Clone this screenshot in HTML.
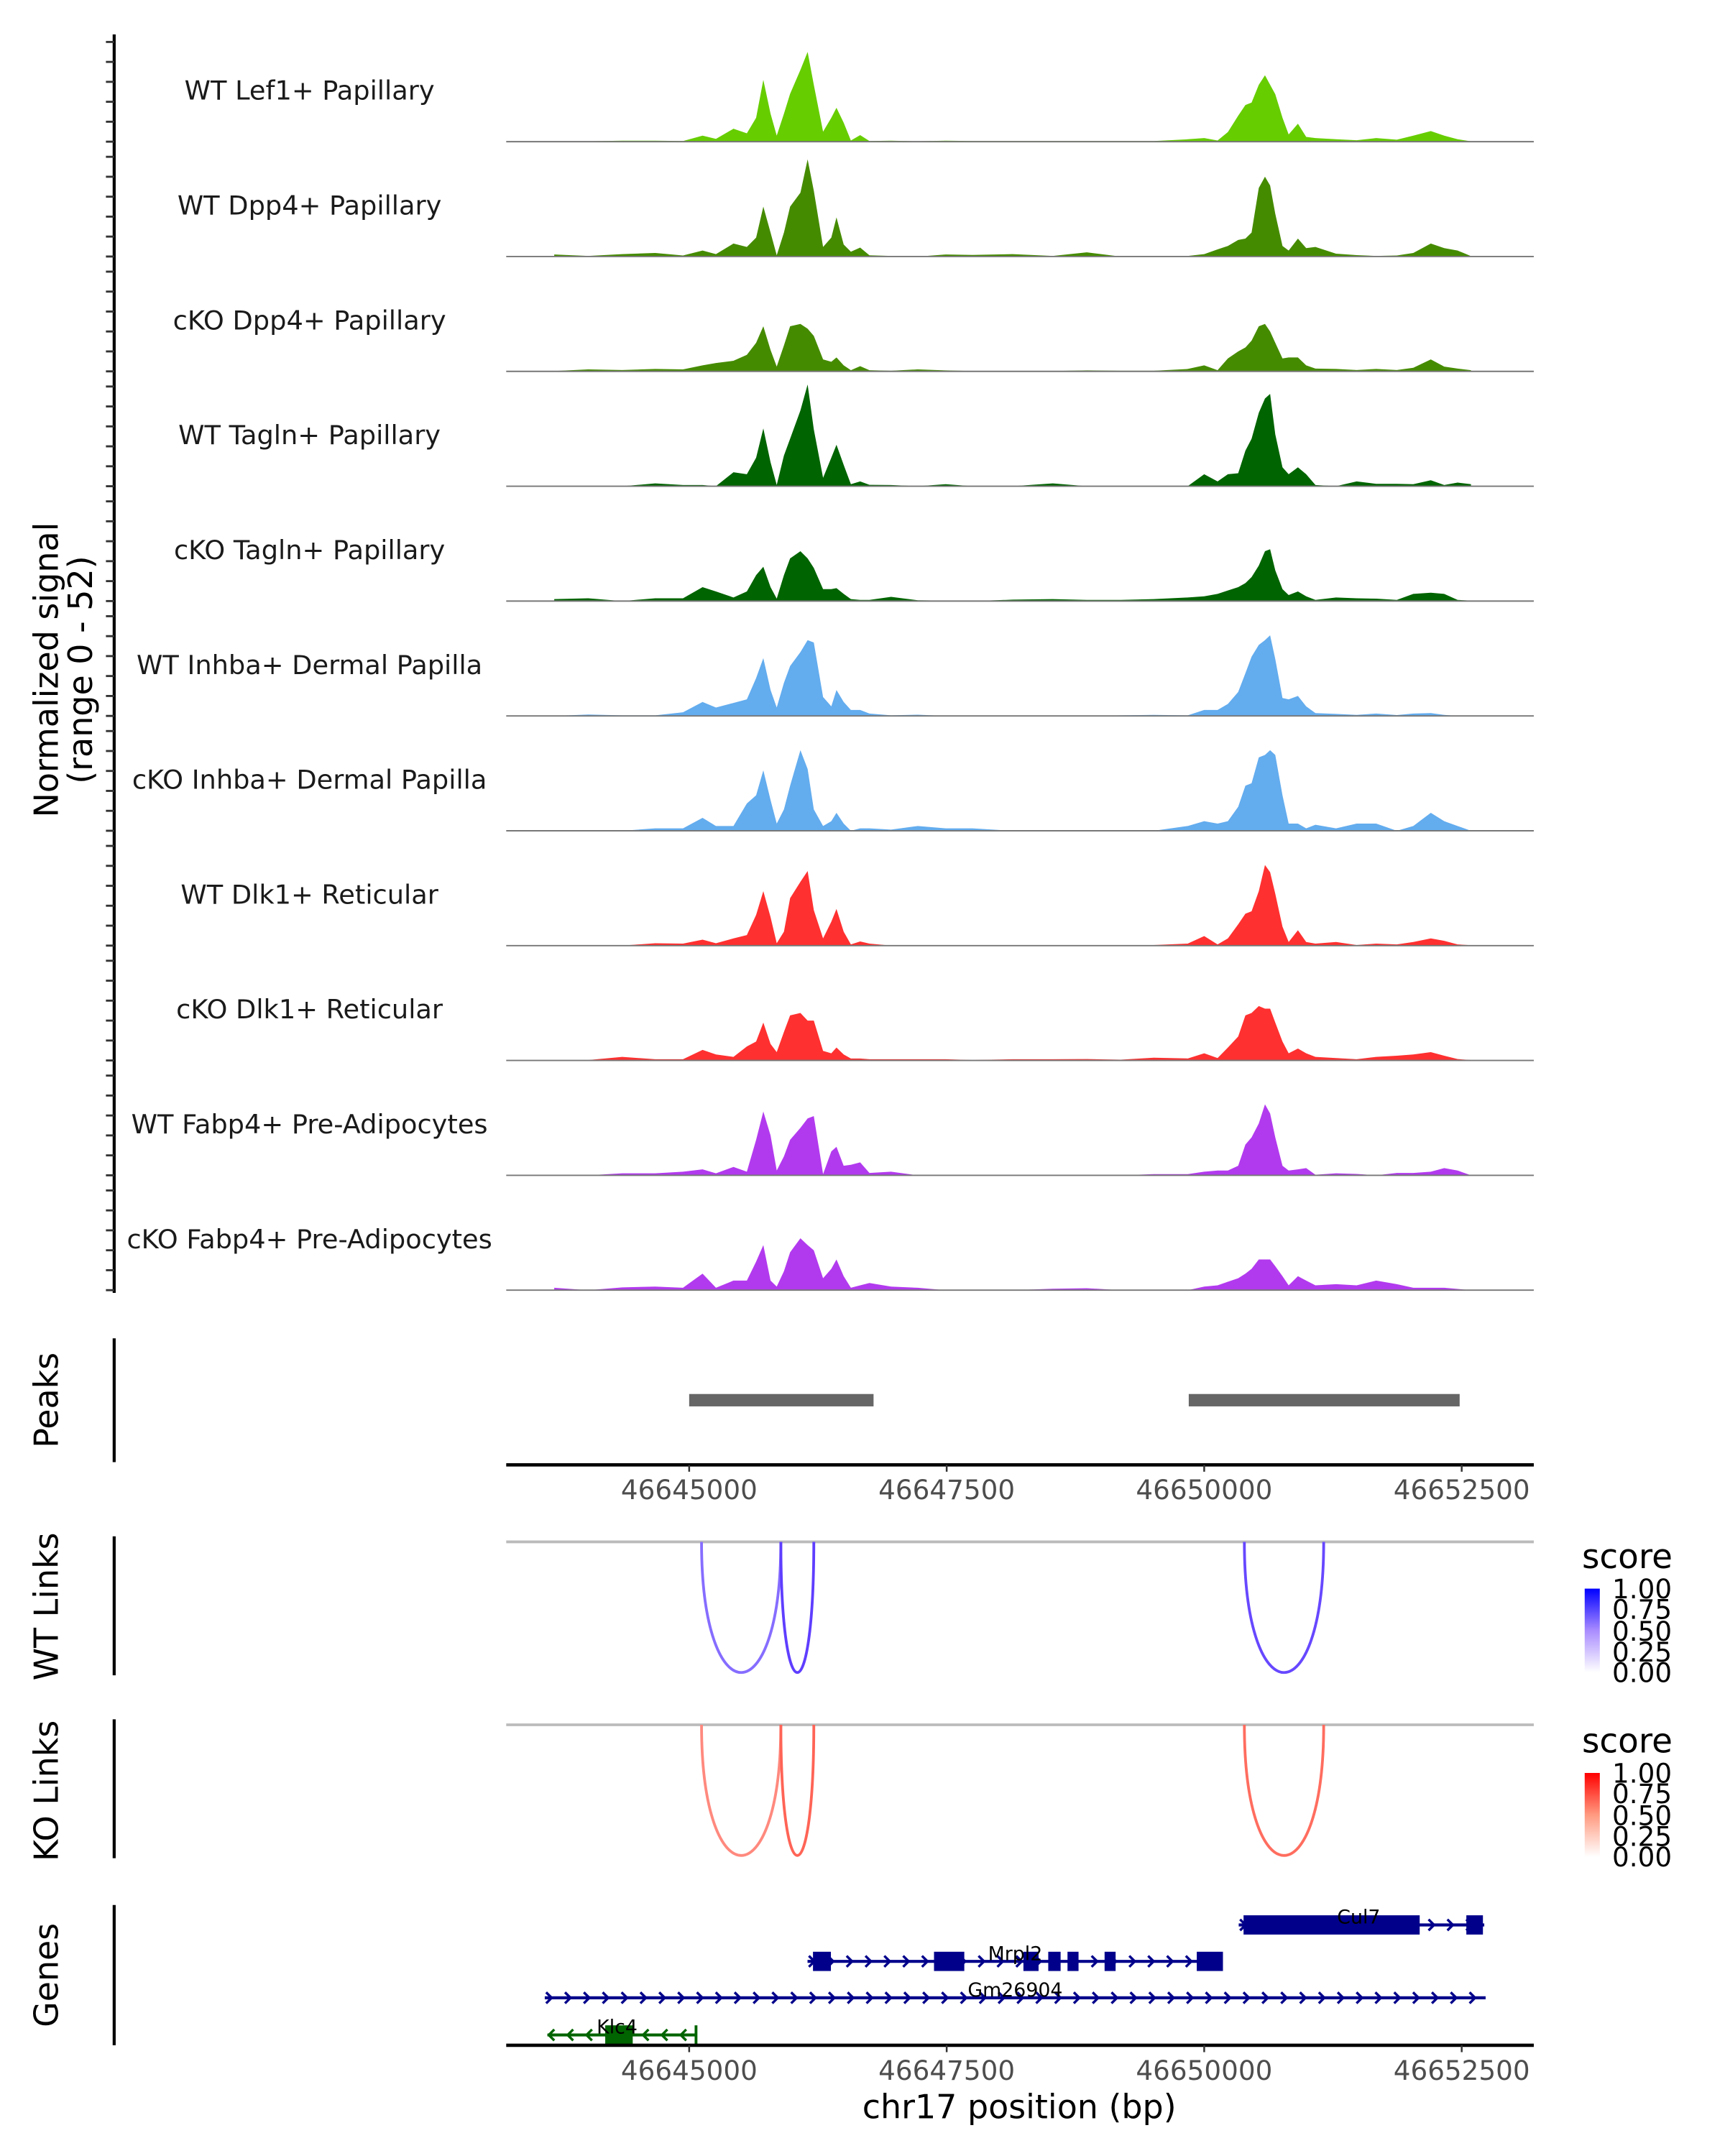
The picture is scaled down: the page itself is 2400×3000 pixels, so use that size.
<!DOCTYPE html>
<html><head><meta charset="utf-8">
<style>
html,body{margin:0;padding:0;background:#fff;}
svg{display:block;font-family:"DejaVu Sans","Liberation Sans",sans-serif;}
</style></head>
<body>
<svg id="chart" xmlns="http://www.w3.org/2000/svg" width="2400" height="3000" viewBox="0 0 1254 1567.5">
<defs>
<linearGradient id="gradWT" x1="0" y1="1" x2="0" y2="0"><stop offset="0" stop-color="#ffffff"/><stop offset="0.5" stop-color="#a98cff"/><stop offset="1" stop-color="#0000ff"/></linearGradient>
<linearGradient id="gradKO" x1="0" y1="1" x2="0" y2="0"><stop offset="0" stop-color="#ffffff"/><stop offset="0.5" stop-color="#ff9a80"/><stop offset="1" stop-color="#ff0000"/></linearGradient>
</defs>
<g id="tracks"></g>
<g id="peaks"></g>
<g id="links"></g>
<g id="genes"></g>
<g id="axes"></g>
<text transform="translate(42,487) rotate(-90)" text-anchor="middle" font-size="24" fill="#000">Normalized signal</text>
<text transform="translate(67,487) rotate(-90)" text-anchor="middle" font-size="24" fill="#000">(range 0 - 52)</text>
<text transform="translate(42,1018) rotate(-90)" text-anchor="middle" font-size="24">Peaks</text>
<text transform="translate(42,1168) rotate(-90)" text-anchor="middle" font-size="24">WT Links</text>
<text transform="translate(42,1302) rotate(-90)" text-anchor="middle" font-size="24">KO Links</text>
<text transform="translate(42,1436) rotate(-90)" text-anchor="middle" font-size="24">Genes</text>
<text x="741" y="1540" text-anchor="middle" font-size="24">chr17 position (bp)</text>
<g>
<text x="1150" y="1140" font-size="24.5">score</text>
<rect x="1152" y="1155" width="11" height="61" fill="url(#gradWT)"/>
<text x="1172" y="1162" font-size="19.5">1.00</text><text x="1172" y="1177" font-size="19.5">0.75</text><text x="1172" y="1193" font-size="19.5">0.50</text><text x="1172" y="1208" font-size="19.5">0.25</text><text x="1172" y="1223" font-size="19.5">0.00</text>
</g>
<g>
<text x="1150" y="1274" font-size="24.5">score</text>
<rect x="1152" y="1289" width="11" height="61" fill="url(#gradKO)"/>
<text x="1172" y="1296" font-size="19.5">1.00</text><text x="1172" y="1311" font-size="19.5">0.75</text><text x="1172" y="1327" font-size="19.5">0.50</text><text x="1172" y="1342" font-size="19.5">0.25</text><text x="1172" y="1357" font-size="19.5">0.00</text>
</g>
</svg>
<script>
const positions = [46643690,46644020,46644350,46644670,46644940,46645130,46645260,46645430,46645560,46645650,46645720,46645790,46645850,46645920,46645980,46646080,46646150,46646210,46646300,46646380,46646430,46646500,46646570,46646660,46646750,46646960,46647220,46647490,46647750,46648140,46648530,46648860,46649190,46649510,46649840,46650000,46650130,46650230,46650330,46650400,46650460,46650530,46650590,46650640,46650690,46650760,46650820,46650910,46650990,46651080,46651280,46651480,46651670,46651870,46652030,46652200,46652330,46652460,46652590];
const wtLef1 = [0.2,0.2,0.5,0.5,0.3,3,1.4,6.5,4.2,12,31,14,3,14,24,36,45,28.5,5,12,17,9.5,0.6,3.3,0.3,0.5,0.2,0.5,0.3,0.3,0.3,0.3,0.3,0.3,1.2,1.8,0.6,4.8,13,18.4,19.6,28.5,33.3,28.5,23.8,12,3.6,9,2.4,1.8,1.2,0.7,1.8,1,3,5.3,3,1.2,0.2];
const wtDpp4 = [1,0.3,1.2,1.8,0.5,3,1.2,6.5,4.8,9.5,25,12,0.6,12,25,32,48.7,33,4.8,9.5,19.6,6,2.4,4.5,0.6,0.3,0,1,0.8,1.2,0.3,2.1,0,0.3,0.3,1.2,3.6,5.3,8.3,9,12,34.4,40,35.6,21.4,5.3,3,9,4.2,4.8,1.4,0.7,0.3,0.5,1.8,6.5,4.2,3,0.2];
const ckoDpp4 = [0.2,1,0.7,1.2,1,3,4.2,5.3,8.3,14.3,22.6,10.7,2.4,13,22.6,23.8,21.4,17.8,6,4.8,7,3,0.6,2.6,0.6,0.3,1,0.5,0.2,0,0.2,0.5,0.3,0.3,1.2,3,0.6,6.5,10,12,15.4,22.6,23.8,20,14.3,6.5,7,7,3,1.4,1.2,0.7,1.2,0.7,1.8,6,2.4,1.4,0.6];
const wtTagln = [0,0,0,1.4,0.6,0.6,0,7,6,14.3,29,12,0.6,15.4,23.8,38,51,28.5,4.2,14.3,20.8,10.7,1,2.4,0.7,0.6,0,1,0,0,1.4,0,0,0,0,6,2.4,6,6.5,17.8,23.8,36.8,44,46.3,26,9.5,6,9.5,6,0.6,0,2.4,1.2,1.2,1,3,0.6,1.8,1];
const ckoTagln = [1,1.4,0,1.4,1.4,7,4.8,1.8,4.8,13,17.2,7,1.2,13,21.4,25,21.4,16.6,6,6,6.5,3.6,1,0.6,0.6,2.1,0.4,0.2,0,0.7,1,0.6,0.6,1,1.8,2.4,3.6,5.3,7,9,12,17.8,25,26,15.4,6,3,4.8,2.4,0.6,1.8,1.4,1.2,0.6,3.6,4.2,3.6,0.6,0.2];
const wtInhba = [0,0.7,0.3,0.3,1.8,7,4.2,6.5,8.3,19,29,13,4.2,16.6,25,32,38,36.8,9.5,4.8,13,7,3,3,1.2,0.3,0.6,0,0,0,0,0,0.3,0.5,0.3,3,3,6,12,21.4,29.7,35.6,38,40.4,28.5,9,8.3,10,4.8,1.4,1,0.5,1.2,0.4,1.2,1.4,0.5,0,0];
const ckoInhba = [0,0,0,1.2,1.2,6.5,2.4,2.4,13.7,17.8,30.3,15.4,3.6,10.7,22.6,40.4,31,10.7,2.4,4.8,9,3.6,0,1.2,1.2,0.6,2.4,1.2,1.2,0,0,0,0,0,2.4,4.8,3.6,4.8,12,22.6,23.8,36.8,38,40.4,38,17.8,3.6,3.6,1.2,3,1.2,3.6,3.6,0,2.4,9,4.8,2.4,0];
const wtDlk1 = [0.3,0.3,0,1.2,1,3,1.2,3.6,5.3,15.4,27.3,14.3,1.2,7,23.8,32,37.4,17.8,3.6,12,18.4,7,0.6,2.1,1,0,0,0,0,0,0.3,0.3,0,0.3,1,4.8,0.6,3.6,10.7,16,17.2,27.3,40.4,36.8,26,9.5,1.8,7.7,1.8,1,1.8,0.3,1,0.6,1.8,3.6,2.4,0.6,0.2];
const ckoDlk1 = [0.2,0.2,1.8,0.6,0.6,5.3,3,1.8,7,9.5,19,8.3,4.2,14.3,22.6,23.8,20,20,4.8,3.6,6.5,3,1,1,0.6,0.6,0.6,0.6,0.2,0.6,0.6,0.7,0.4,1.4,1,3.6,1.2,6.5,12,22.6,23.8,27.3,26,26,19,9.5,3.6,6,3.6,1.8,1.2,0.6,1.8,2.4,3,4.2,2.4,0.7,0.2];
const wtFabp4 = [0,0,1,1,1.8,3,1,4.2,1.8,17.8,32,20,2.4,9.5,17.8,23.8,28.5,29.7,0.6,12,14.3,4.8,5.3,6.5,1.2,1.8,0,0,0,0,0,0,0,0.6,0.6,1.8,2.4,2.4,4.8,15.4,19,26,35.6,31,19,4.8,2.4,3,3.6,0.3,1,0.7,0,1.2,1.2,1.8,3.6,2.4,0];
const ckoFabp4 = [1.2,0,1.4,1.8,1.2,8.3,1.2,4.8,4.8,14.3,22.6,4.8,1.8,9.5,19,26,22.6,20,6,10.7,15.4,7,1.2,2.4,3.6,1.8,1.2,0,0,0,0.7,1,0,0,0,1.8,2.4,4.2,6,8.3,10.7,15.4,15.4,15.4,12,7,2.4,7,4.8,2.4,3,2.4,4.8,3,1.2,1.2,1.2,0.6,0];
const trackLabels = ["WT Lef1+ Papillary","WT Dpp4+ Papillary","cKO Dpp4+ Papillary","WT Tagln+ Papillary","cKO Tagln+ Papillary","WT Inhba+ Dermal Papilla","cKO Inhba+ Dermal Papilla","WT Dlk1+ Reticular","cKO Dlk1+ Reticular","WT Fabp4+ Pre-Adipocytes","cKO Fabp4+ Pre-Adipocytes"];
const trackSeries = [wtLef1,wtDpp4,ckoDpp4,wtTagln,ckoTagln,wtInhba,ckoInhba,wtDlk1,ckoDlk1,wtFabp4,ckoFabp4];
const trackColors = ["#66CD00","#458B00","#458B00","#006400","#006400","#63ACEE","#63ACEE","#FF3030","#FF3030","#B23AEE","#B23AEE"];
const yTicks = [0,10,20,30,40,50];
const peakStarts = [46645000,46649850];
const peakEnds = [46646790,46652480];
const xTicks = [46645000,46647500,46650000,46652500];
const wtLinkStarts = [46645120,46645890,46650390];
const wtLinkEnds = [46645890,46646210,46651160];
const wtLinkScores = [0.62,0.82,0.78];
const koLinkStarts = [46645120,46645890,46650390];
const koLinkEnds = [46645890,46646210,46651160];
const koLinkScores = [0.55,0.72,0.68];
const geneNames = ["Cul7","Mrpl2","Gm26904","Klc4"];
const geneStarts = [46650335,46646149,46643598,46643624];
const geneEnds = [46652719,46650182,46652732,46645067];
const geneStrands = ["+","+","+","-"];
const geneColors = ["#00008B","#00008B","#00008B","#006400"];
const geneExons = [
  [[46650382,46652092],[46652545,46652706]],
  [[46646202,46646376],[46647377,46647671],[46648245,46648392],[46648486,46648606],[46648673,46648780],[46649033,46649140],[46649928,46650182]],
  [],
  [[46644185,46644452],[46645053,46645080]]
];

const NS = "http://www.w3.org/2000/svg";
const X0 = 368, X1 = 1115;
function xScale(bp){ return 501 + (bp - 46645000) * 0.07488; }
const PXU = 1.45;
function baseY(i){ return 103 + i * 83.5; }
function mk(tag, attrs, parent){ const e = document.createElementNS(NS, tag); for (const k in attrs) e.setAttribute(k, attrs[k]); parent.appendChild(e); return e; }

const gT = document.getElementById('tracks');
const gA = document.getElementById('axes');
let ax = mk('line', {x1:83, y1:25, x2:83, y2:940, stroke:'#000', 'stroke-width':2.2}, gA);


trackSeries.forEach((vals, t) => {
  const b = baseY(t);
  let d = 'M' + xScale(positions[0]).toFixed(2) + ',' + b;
  vals.forEach((v, i) => { d += ' L' + xScale(positions[i]).toFixed(2) + ',' + (b - v * PXU).toFixed(2); });
  d += ' L' + xScale(positions[positions.length - 1]).toFixed(2) + ',' + b + ' Z';
  const area = mk('path', {d: d, fill: trackColors[t]}, gT);
  
  
  const bl = mk('line', {x1:X0, y1:b, x2:X1, y2:b, stroke:'#777', 'stroke-width':1}, gT);
  
  
  const lab = mk('text', {x:225, y:b - 30.5, 'text-anchor':'middle', 'font-size':19.2, fill:'#1a1a1a'}, gT);
  lab.textContent = trackLabels[t];
  
  
  yTicks.forEach(v => {
    const tk = mk('line', {x1:77, y1:b - v * PXU, x2:83, y2:b - v * PXU, stroke:'#333', 'stroke-width':1.5}, gA);
    
    
  });
});

const gP = document.getElementById('peaks');
mk('line', {x1:83, y1:973, x2:83, y2:1063, stroke:'#000', 'stroke-width':2.2}, gP);
peakStarts.forEach((s, i) => {
  const r = mk('rect', {x:xScale(s), y:1013.5, width:xScale(peakEnds[i]) - xScale(s), height:9, fill:'#666'}, gP);
  
  
});
function xAxis(y, name){
  const l = mk('line', {x1:X0, y1:y, x2:X1, y2:y, stroke:'#000', 'stroke-width':2.4}, gA);
  
  
  xTicks.forEach(t => {
    const x = xScale(t);
    mk('line', {x1:x, y1:y, x2:x, y2:y + 5, stroke:'#333', 'stroke-width':1.3}, gA);
    const tx = mk('text', {x:x, y:y + 25, 'text-anchor':'middle', 'font-size':19.5, fill:'#4d4d4d'}, gA);
    tx.textContent = t;
    
    
  });
}
xAxis(1065, 'peaks-x-axis');

const gL = document.getElementById('links');
function mix(c, s){ return 'rgb(' + Math.round(255 + (c[0] - 255) * s) + ',' + Math.round(255 + (c[1] - 255) * s) + ',' + Math.round(255 + (c[2] - 255) * s) + ')'; }
function links(top, starts, ends, scores, col, name){
  mk('line', {x1:83, y1:top - 4, x2:83, y2:top + 97, stroke:'#000', 'stroke-width':2.2}, gL);
  mk('line', {x1:X0, y1:top, x2:X1, y2:top, stroke:'#bbb', 'stroke-width':2}, gL);
  const depth = 95;
  starts.forEach((s, i) => {
    const a = xScale(s), b = xScale(ends[i]);
    const c = top + depth * 4 / 3;
    const p = mk('path', {d:'M' + a + ',' + top + ' C' + a + ',' + c + ' ' + b + ',' + c + ' ' + b + ',' + top, fill:'none', stroke:mix(col, scores[i]), 'stroke-width':2}, gL);
    
    
  });
}
links(1121, wtLinkStarts, wtLinkEnds, wtLinkScores, [60, 20, 255], 'wt-link-arc');
links(1254, koLinkStarts, koLinkEnds, koLinkScores, [255, 40, 20], 'ko-link-arc');

const gG = document.getElementById('genes');
mk('line', {x1:83, y1:1385, x2:83, y2:1487, stroke:'#000', 'stroke-width':2.2}, gG);
const rowY = [1399.5, 1426, 1452.5, 1479.5];
geneNames.forEach((g, i) => {
  const y = rowY[i], col = geneColors[i];
  const a = xScale(geneStarts[i]), b = xScale(geneEnds[i]);
  const ln = mk('line', {x1:a, y1:y, x2:b, y2:y, stroke:col, 'stroke-width':2.2}, gG);
  
  
  for (let x = a + 3; x < b - 2; x += 13.7) {
    const pts = geneStrands[i] === '+' ? (x - 2) + ',' + (y - 4) + ' ' + (x + 2) + ',' + y + ' ' + (x - 2) + ',' + (y + 4) : (x + 2) + ',' + (y - 4) + ' ' + (x - 2) + ',' + y + ' ' + (x + 2) + ',' + (y + 4);
    mk('polyline', {points:pts, fill:'none', stroke:col, 'stroke-width':1.8}, gG);
  }
  geneExons[i].forEach(e => {
    const ex = mk('rect', {x:xScale(e[0]), y:y - 7, width:Math.max(2, xScale(e[1]) - xScale(e[0])), height:14, fill:col}, gG);
    
    
  });
  const t = mk('text', {x:(a + b) / 2, y:y - 1, 'text-anchor':'middle', 'font-size':14, fill:'#000'}, gG);
  if (i === 0) t.setAttribute('x', xScale(46651500));
  if (i === 3) t.setAttribute('x', xScale(46644300));
  t.textContent = g;
  
  
});
xAxis(1487, 'genes-x-axis');
</script>
</body></html>
